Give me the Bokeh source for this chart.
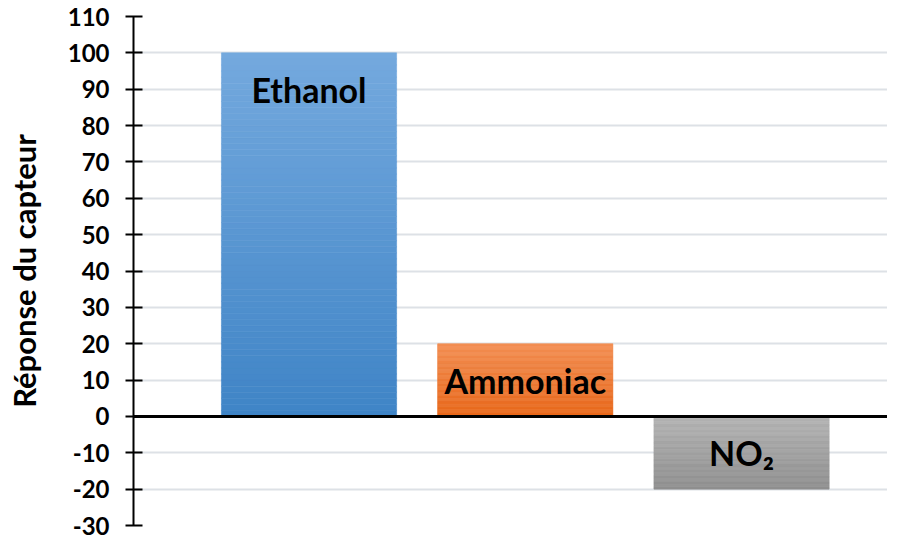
import numpy as np
from bokeh.plotting import figure
from bokeh.models import Range1d, FixedTicker, Span
from bokeh.core.properties import value
from bokeh.embed import file_html
from bokeh.resources import INLINE

# ---- data ----
categories = ["Ethanol", "Ammoniac", "NO\u2082"]
responses = [100, 20, -20]
y_ticks = [-30, -20, -10, 0, 10, 20, 30, 40, 50, 60, 70, 80, 90, 100, 110]
top_colors = ["#74a9de", "#f28e52", "#b3b3b3"]
bottom_colors = ["#3f84c6", "#e8671a", "#8e8e8e"]

FONT = "Lato"

p = figure(width=887, height=540, output_backend="svg", toolbar_location=None,
           x_range=Range1d(-0.8116, 2.675), y_range=Range1d(-30, 110),
           min_border_left=133, min_border_right=0, min_border_top=16,
           min_border_bottom=15)
p.outline_line_color = None
p.background_fill_color = "white"
p.border_fill_color = "white"

# grid
p.xgrid.visible = False
p.ygrid.ticker = FixedTicker(ticks=y_ticks)
p.ygrid.grid_line_color = "#dde1e6"
p.ygrid.grid_line_width = 2

# axes
p.xaxis.visible = False
ya = p.yaxis[0]
ya.ticker = FixedTicker(ticks=y_ticks)
ya.major_label_overrides = {t: str(t) for t in y_ticks}
ya.axis_line_color = "black"
ya.axis_line_width = 2
ya.major_tick_line_color = "black"
ya.major_tick_line_width = 2
ya.major_tick_in = 9
ya.major_tick_out = 8
ya.minor_tick_line_color = None
ya.major_label_text_font = FONT
ya.major_label_text_font_style = "bold"
ya.major_label_text_font_size = "24px"
ya.major_label_text_color = "black"
ya.major_label_standoff = 16
ya.axis_label = "Réponse du capteur"
ya.axis_label_text_font = FONT
ya.axis_label_text_font_style = "bold"
ya.axis_label_text_font_size = "31px"
ya.axis_label_text_color = "black"
ya.axis_label_standoff = 22


def hex2rgb(h):
    h = h.lstrip("#")
    return np.array([int(h[i:i + 2], 16) for i in (0, 2, 4)], dtype=float)


def rgb2hex(c):
    return "#%02x%02x%02x" % tuple(int(round(v)) for v in c)


# bars with vertical gradient (lighter at top)
bar_w = 0.81
n = 60
xs = np.arange(len(categories))
for xc, v, tc, bc in zip(xs, responses, top_colors, bottom_colors):
    ymin, ymax = min(0, v), max(0, v)
    edges = np.linspace(ymin, ymax, n + 1)
    mids = (edges[:-1] + edges[1:]) / 2
    f = (mids - ymin) / (ymax - ymin)
    c_top, c_bot = hex2rgb(tc), hex2rgb(bc)
    cols = [rgb2hex(c_bot + fi * (c_top - c_bot)) for fi in f]
    p.quad(left=[xc - bar_w / 2] * n, right=[xc + bar_w / 2] * n,
           bottom=edges[:-1], top=edges[1:], fill_color=cols,
           line_color=cols, line_width=0.6)

# zero line
p.add_layout(Span(location=0, dimension="width", line_color="black",
                  line_width=3))

# labels inside bars
label_y = [v - np.sign(v) * 10 for v in responses]
p.text(x=xs, y=label_y, text=categories, text_align="center",
       text_baseline="middle", text_font=value(FONT),
       text_font_style="bold", text_font_size="34px", text_color="black")

open("out.html", "w").write(file_html(p, INLINE))
